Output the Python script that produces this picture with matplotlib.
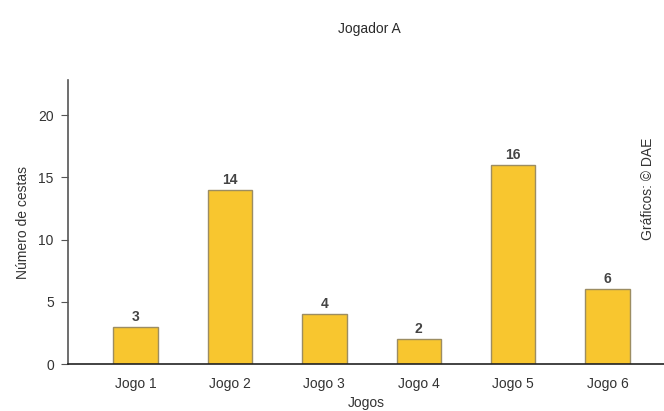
import numpy as np
import matplotlib.pyplot as plt

jogos = ['Jogo 1', 'Jogo 2', 'Jogo 3', 'Jogo 4', 'Jogo 5', 'Jogo 6']
cestas = [3, 14, 4, 2, 16, 6]

plt.rcParams['font.family'] = ['Liberation Sans', 'DejaVu Sans']

fig = plt.figure(figsize=(6.64, 4.11), dpi=100)
ax = fig.add_axes([0.102, 0.114, 0.898, 0.691])

x = np.arange(len(jogos))
bars = ax.bar(x, cestas, width=0.47, color='#F8C62F', edgecolor='#9c8d62', linewidth=1)
for b, v in zip(bars, cestas):
    ax.text(b.get_x() + b.get_width() / 2, v + 0.25, str(v), ha='center', va='bottom',
            fontsize=10, color='#444444', fontweight='bold')

ax.set_xlim(-0.72, 5.6)
ax.set_ylim(0, 22.8)
ax.set_yticks([0, 5, 10, 15, 20])
ax.set_xticks(x)
ax.set_xticklabels(jogos)
ax.tick_params(axis='x', length=0, pad=9, labelsize=10, colors='#333333')
ax.tick_params(axis='y', length=5, width=0.8, pad=5, labelsize=10, colors='#333333')
ax.tick_params(axis='y', color='#555555')
for s in ['top', 'right']:
    ax.spines[s].set_visible(False)
ax.spines['left'].set_color('#555555')
ax.spines['bottom'].set_color('#222222')
ax.spines['left'].set_linewidth(1.2)
ax.spines['bottom'].set_linewidth(1.2)

ax.set_xlabel('Jogos', fontsize=10, color='#333333', labelpad=3.5)
ax.set_ylabel('Número de cestas', fontsize=10, color='#333333', labelpad=6)

fig.text(0.557, 0.93, 'Jogador A', ha='center', va='center', fontsize=10, color='#2a2a2a')
fig.text(0.976, 0.54, 'Gráficos: © DAE', rotation=90, ha='center', va='center',
         fontsize=10, color='#333333')

fig.savefig('out.png', dpi=100)
